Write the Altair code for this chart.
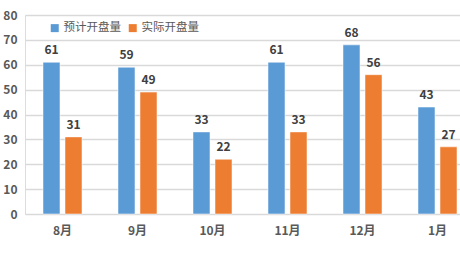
import altair as alt
import pandas as pd

months = ["8月", "9月", "10月", "11月", "12月", "1月"]
planned = [61, 59, 33, 61, 68, 43]
actual = [31, 49, 22, 33, 56, 27]
series = ["预计开盘量", "实际开盘量"]
colors = ["#5B9BD5", "#ED7D31"]

rows = []
for m, p, a in zip(months, planned, actual):
    rows.append({"month": m, "series": series[0], "value": p})
    rows.append({"month": m, "series": series[1], "value": a})
df = pd.DataFrame(rows)

FONT = "Noto Sans CJK SC"

x = alt.X("month:N", sort=months, title=None,
          scale=alt.Scale(range=[0, 450], paddingInner=0, paddingOuter=0),
          axis=alt.Axis(domain=False, ticks=False, labelAngle=0, labelFont=FONT,
                        labelFontSize=12, labelFontWeight="bold", labelColor="#595959",
                        labelPadding=11, grid=False))
xo = alt.XOffset("series:N", sort=series,
                 scale=alt.Scale(paddingInner=5/22, paddingOuter=0.818))
y = alt.Y("value:Q", title=None,
          scale=alt.Scale(domain=[0, 80]),
          axis=alt.Axis(values=list(range(0, 81, 10)), domain=False, ticks=False,
                        labelFont=FONT, labelFontSize=12, labelFontWeight="bold",
                        labelColor="#595959", labelPadding=8,
                        gridColor="#D9D9D9", gridWidth=1.5))

base = alt.Chart(df).encode(x=x, xOffset=xo, y=y)

bars = base.mark_bar(stroke="white", strokeWidth=1, strokeOpacity=0.5).encode(
    color=alt.Color("series:N", sort=series,
                    scale=alt.Scale(domain=series, range=colors),
                    legend=alt.Legend(title=None, orient="none", legendX=24, legendY=7,
                                      direction="horizontal", symbolType="square",
                                      symbolSize=64, symbolStrokeWidth=0,
                                      labelFont=FONT, labelFontSize=11.5,
                                      labelColor="#595959", columnPadding=6,
                                      labelOffset=3, symbolOffset=0))
)

labels = base.mark_text(dy=-12, font=FONT, fontSize=12, fontWeight="bold",
                        color="#404040").encode(text="value:Q")

chart = (bars + labels).properties(
    width=435, height=199,
    autosize=alt.AutoSizeParams(type="none"),
    padding={"left": 25, "top": 15, "right": 0, "bottom": 45},
).configure_view(stroke=None).configure(background="white")

chart.save("out.html", embed_options={"renderer": "svg", "actions": False})
